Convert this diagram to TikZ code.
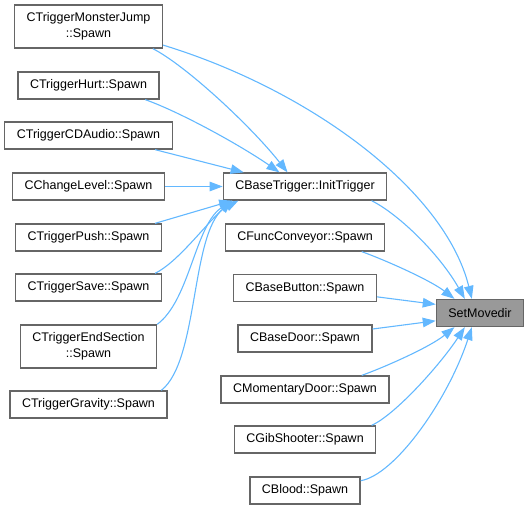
\documentclass[tikz,border=0pt]{standalone}
\usepackage{fontspec}
\setmainfont{Liberation Sans}
\usepackage{tikz}
\usetikzlibrary{arrows.meta,positioning}

\definecolor{nodeborder}{HTML}{666666}
\definecolor{nodehl}{HTML}{999999}
\definecolor{edgeblue}{HTML}{63B8FF}

\begin{document}
\begin{tikzpicture}[
  x=1pt, y=-1pt,
  font=\fontsize{12.5}{15.5}\selectfont,
  fn/.style={rectangle, draw=nodeborder, fill=white, line width=1.3pt, minimum height=27pt, inner xsep=12pt, inner ysep=0pt, align=center},
  fntwo/.style={fn, minimum height=43pt},
  fnhl/.style={fn, fill=nodehl},
  call/.style={-{Triangle[length=13pt,width=9.5pt]}, draw=edgeblue, line width=1.1pt}
]
\useasboundingbox (0,0) rectangle (529,509);

\def\xa{88.5}
\def\xb{305}
\def\xc{480}

% callers of InitTrigger
\node[fntwo] (mjump) at (\xa,26.5) {CTriggerMonsterJump\\::Spawn};
\node[fn] (hurt) at (\xa,85.5) {CTriggerHurt::Spawn};
\node[fn] (cdaudio) at (\xa,135.5) {CTriggerCDAudio::Spawn};
\node[fn] (chlevel) at (\xa,186.5) {CChangeLevel::Spawn};
\node[fn] (push) at (\xa,237.5) {CTriggerPush::Spawn};
\node[fn] (save) at (\xa,287.5) {CTriggerSave::Spawn};
\node[fntwo] (endsec) at (\xa,346.5) {CTriggerEndSection\\::Spawn};
\node[fn] (gravity) at (\xa,404.5) {CTriggerGravity::Spawn};

% direct callers of SetMovedir
\node[fn] (inittrig) at (\xb,186.5) {CBaseTrigger::InitTrigger};
\node[fn] (conveyor) at (\xb,237.5) {CFuncConveyor::Spawn};
\node[fn] (button) at (\xb,288) {CBaseButton::Spawn};
\node[fn] (door) at (\xb,338.5) {CBaseDoor::Spawn};
\node[fn] (momdoor) at (\xb,389.5) {CMomentaryDoor::Spawn};
\node[fn] (gibshoot) at (\xb,439.5) {CGibShooter::Spawn};
\node[fn] (blood) at (\xb,490.5) {CBlood::Spawn};

\node[fnhl] (setmovedir) at (\xc,313) {SetMovedir};

% edges into InitTrigger
\draw[call] (mjump.-19) .. controls (185,65) and (250,125) .. (inittrig.141);
\draw[call] (hurt.-14.4) .. controls (180,112) and (240,145) .. (inittrig.151);
\draw[call] (cdaudio.-12.8) -- (inittrig.167.5);
\draw[call] (chlevel.east) -- (inittrig.west);
\draw[call] (push.12.8) -- (inittrig.191);
\draw[call] (save.12.8) .. controls (178,262) and (205,225) .. (inittrig.191.4);
\draw[call] (endsec.north east) .. controls (190,300) and (195,225) .. (inittrig.191.7);
\draw[call] (gravity.11.2) .. controls (200,360) and (190,225) .. (inittrig.192);

% edges into SetMovedir
\draw[call] (mjump.-14) .. controls (310,90) and (445,190) .. (setmovedir.120);
\draw[call] (inittrig.-12.5) .. controls (400,215) and (440,255) .. (setmovedir.137);
\draw[call] (conveyor.-14.3) .. controls (385,260) and (430,280) .. (setmovedir.151);
\draw[call] (button.-7.8) -- (setmovedir.169.5);
\draw[call] (door.8.8) -- (setmovedir.190.5);
\draw[call] (momdoor.14.3) .. controls (385,367) and (430,347) .. (setmovedir.209);
\draw[call] (gibshoot.12.3) .. controls (395,415) and (440,365) .. (setmovedir.223);
\draw[call] (blood.10.6) .. controls (395,475) and (448,400) .. (setmovedir.240);

\end{tikzpicture}
\end{document}
